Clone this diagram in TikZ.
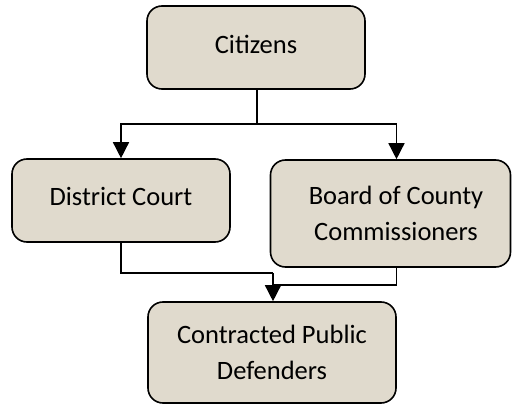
\documentclass[tikz,border=0pt]{standalone}
\usepackage{fontspec}
\setmainfont{Carlito}
\usetikzlibrary{arrows.meta,calc}
\definecolor{boxfill}{RGB}{224,218,205}
\tikzset{
  box/.style={draw=black, line width=1.6pt, fill=boxfill, rounded corners=15pt,
    align=center, inner sep=0pt, font=\fontsize{26.5}{36}\selectfont},
  conn/.style={draw=black, line width=1.5pt},
  arr/.style={conn, -{Triangle[width=16pt,length=16pt]}}
}
\begin{document}
\begin{tikzpicture}[x=1pt,y=-1pt]
\useasboundingbox (0,0) rectangle (512,406);
\node[box, minimum width=218pt, minimum height=83pt] (cit) at (256,47.5) {\raisebox{7pt}{Citizens}};
\node[box, minimum width=218pt, minimum height=83pt] (dc) at (121,200.5) {\raisebox{9pt}{District Court}};
\node[box, minimum width=240pt, minimum height=107pt] (bc) at (390.5,213.5) {\hspace*{11pt}Board of County\\\hspace*{11pt}Commissioners};
\node[box, minimum width=248pt, minimum height=101pt] (cpd) at (272,352.5) {Contracted Public\\Defenders};
\coordinate (j1) at (257,124);
\coordinate (j2) at (273,273);
\coordinate (j3) at (273,285);
\draw[conn] (cit.south -| j1) -- (j1);
\draw[arr] (j1) -| (dc.north);
\draw[arr] (j1) -| ([xshift=6pt]bc.north);
\draw[conn] (dc.south) |- (j2);
\draw[conn] ([xshift=6pt]bc.south) |- (j3);
\draw[arr] (j2) -- (cpd.north -| j2);
\end{tikzpicture}
\end{document}
